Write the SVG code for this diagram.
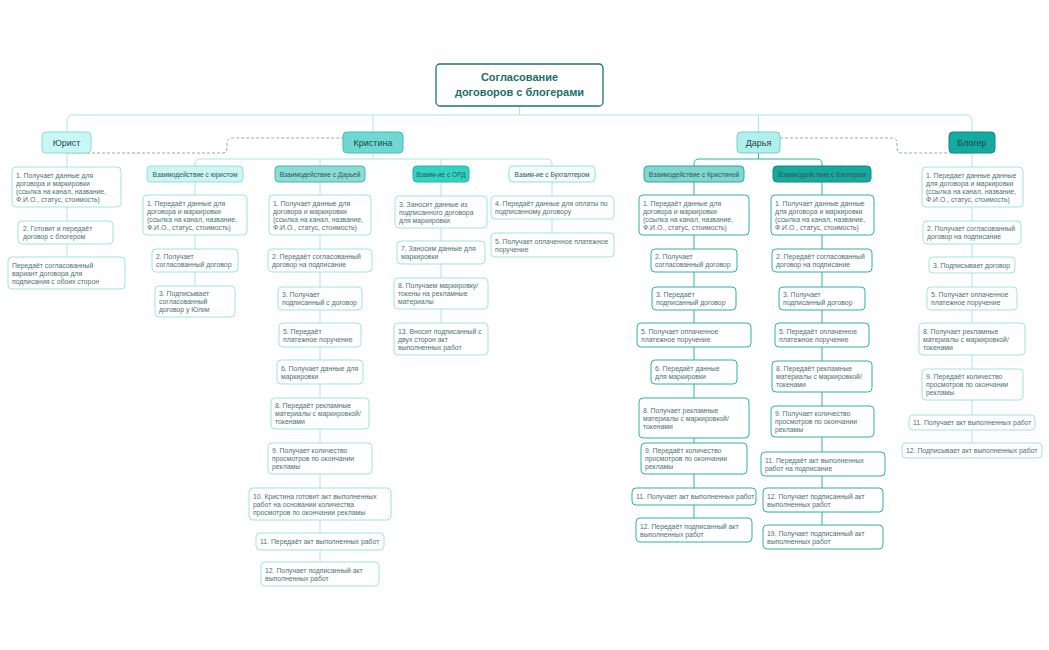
<svg xmlns="http://www.w3.org/2000/svg" width="1049" height="650" viewBox="0 0 1049 650">
<style>
.bg{fill:#ffffff}
.n rect{fill:#ffffff;stroke:#9fe4e0;stroke-width:1}
.nd rect{fill:#ffffff;stroke:#2db2a8;stroke-width:1}
.n text,.nd text{font-family:"Liberation Sans",Arial,sans-serif;font-size:6.85px;fill:#4a7272}
.hd text{font-family:"Liberation Sans",Arial,sans-serif;font-size:9px;fill:#234848;text-anchor:middle}
.sh text{font-family:"Liberation Sans",Arial,sans-serif;font-size:6.6px;fill:#2f5656;text-anchor:middle}
.cl{fill:none;stroke:#a6e8e4;stroke-width:1}
.cd{fill:none;stroke:#2db2a8;stroke-width:1}
.ds{fill:none;stroke:#9aa8a8;stroke-width:1;stroke-dasharray:3 2}
</style>
<rect class="bg" x="0" y="0" width="1049" height="650"/>
<g id="connectors">
<path class="cl" d="M519.5,106 V115 M67,131 V121 Q67,115 73,115 H966 Q972,115 972,121 V131 M373,115 V132 M758.5,115 V132"/>
<path class="ds" d="M67,153 H222 Q227,153 227,148 V143 Q227,138 232,138 H343"/>
<path class="ds" d="M780,138 H892 Q897,138 897,143 V148 Q897,153 902,153 H972"/>
<path class="cl" d="M67,153 V257"/>
<path class="cl" d="M972,153 V443"/>
<path class="cl" d="M373,153 V159 M195,166 V164 Q195,159 200,159 H547 Q552,159 552,164 V166 M320,159 V166 M441,159 V166"/>
<path class="cl" d="M195,182 V286 M320,182 V562 M441,182 V323 M552,182 V233"/>
<path class="cd" d="M758.5,153 V159 M694,166 V164 Q694,159 699,159 H817 Q822,159 822,164 V166"/>
<path class="cd" d="M694,182 V518 M822,182 V525"/>
</g>
<g id="title">
<rect x="436" y="64" width="167" height="42" rx="4" fill="#ffffff" stroke="#1b7672" stroke-width="1.3"/>
<text font-family="Liberation Sans, Arial, sans-serif" font-size="11" font-weight="bold" fill="#1d6e6a" text-anchor="middle"><tspan x="519.5" y="81">Согласование</tspan><tspan x="519.5" y="96">договоров с блогерами</tspan></text>
</g>
<g id="h-jurist" class="hd"><rect x="42" y="132" width="49" height="21" rx="4" fill="#c9f6f6" stroke="#86dcd8"/><text x="66.5" y="145.5">Юрист</text></g>
<g id="h-kristina" class="hd"><rect x="343" y="132" width="60" height="21" rx="4" fill="#6fd8d2" stroke="#3fbfb6"/><text x="373" y="145.5">Кристина</text></g>
<g id="h-darya" class="hd"><rect x="737" y="132" width="43" height="21" rx="4" fill="#b2efec" stroke="#6fd3cd"/><text x="758.5" y="145.5">Дарья</text></g>
<g id="h-bloger" class="hd"><rect x="949" y="132" width="46" height="21" rx="4" fill="#14aaa2" stroke="#0e8a84"/><text x="972" y="145.5">Блогер</text></g>

<g id="sh-jurist" class="sh"><rect x="147" y="166" width="96" height="16" rx="4" fill="#cdf5f3" stroke="#8fe0dc"/><text x="195" y="176.5">Взаимодействие с юристом</text></g>
<g id="sh-darya" class="sh"><rect x="275" y="166" width="90" height="16" rx="4" fill="#8ddbd5" stroke="#3cb8b0"/><text x="320" y="176.5">Взаимодействие с Дарьей</text></g>
<g id="sh-ord" class="sh"><rect x="413" y="166" width="56" height="16" rx="4" fill="#33d3c3" stroke="#22b5a8"/><text x="441" y="176.5">Взаим-ие с ОРД</text></g>
<g id="sh-buh" class="sh"><rect x="509" y="166" width="86" height="16" rx="4" fill="#f3fcfc" stroke="#8fe0dc"/><text x="552" y="176.5">Взаим-ие с Бухгалтером</text></g>
<g id="sh-kristinoy" class="sh"><rect x="644" y="166" width="100" height="16" rx="4" fill="#80d7d1" stroke="#2aa89e"/><text x="694" y="176.5">Взаимодействие с Кристиной</text></g>
<g id="sh-blogerom" class="sh"><rect x="773" y="166" width="98" height="16" rx="4" fill="#17a89e" stroke="#0e8a80"/><text x="822" y="176.5">Взаимодействие с Блогером</text></g>

<g id="j1" class="n"><rect x="12" y="167" width="109" height="40" rx="4"/><text><tspan x="16" y="177.5">1. Получает данные для</tspan><tspan x="16" dy="8">договора и маркировки</tspan><tspan x="16" dy="8">(ссылка на канал, название,</tspan><tspan x="16" dy="8">Ф.И.О., статус, стоимость)</tspan></text></g>
<g id="j2" class="n"><rect x="18" y="221" width="95" height="23" rx="4"/><text><tspan x="23" y="231">2. Готовит и передаёт</tspan><tspan x="23" dy="8">договор с блогером</tspan></text></g>
<g id="j3" class="n"><rect x="8" y="257" width="117" height="32" rx="4"/><text><tspan x="12" y="267.5">Передаёт согласованный</tspan><tspan x="12" dy="8">вариант договора для</tspan><tspan x="12" dy="8">подписания с обоих сторон</tspan></text></g>

<g id="k1" class="n"><rect x="143" y="195" width="104" height="40" rx="4"/><text><tspan x="147" y="205.5">1. Передаёт данные для</tspan><tspan x="147" dy="8">договора и маркировки</tspan><tspan x="147" dy="8">(ссылка на канал, название,</tspan><tspan x="147" dy="8">Ф.И.О., статус, стоимость)</tspan></text></g>
<g id="k2" class="n"><rect x="152" y="249" width="86" height="23" rx="4"/><text><tspan x="156" y="259">2. Получает</tspan><tspan x="156" dy="8">согласованный договор</tspan></text></g>
<g id="k3" class="n"><rect x="155" y="286" width="80" height="31" rx="4"/><text><tspan x="159" y="296">3. Подписывает</tspan><tspan x="159" dy="8">согласованный</tspan><tspan x="159" dy="8">договор у Юлии</tspan></text></g>

<g id="d1" class="n"><rect x="269" y="195" width="102" height="40" rx="4"/><text><tspan x="273" y="205.5">1. Получает данные для</tspan><tspan x="273" dy="8">договора и маркировки</tspan><tspan x="273" dy="8">(ссылка на канал, название,</tspan><tspan x="273" dy="8">Ф.И.О., статус, стоимость)</tspan></text></g>
<g id="d2" class="n"><rect x="268" y="249" width="104" height="23" rx="4"/><text><tspan x="272" y="259">2. Передаёт согласованный</tspan><tspan x="272" dy="8">договор на подписание</tspan></text></g>
<g id="d3" class="n"><rect x="278" y="287" width="84" height="23" rx="4"/><text><tspan x="282" y="297">3. Получает</tspan><tspan x="282" dy="8">подписанный с  договор</tspan></text></g>
<g id="d5" class="n"><rect x="279" y="323" width="82" height="24" rx="4"/><text><tspan x="283" y="333.5">5. Передаёт</tspan><tspan x="283" dy="8">платежное поручение</tspan></text></g>
<g id="d6" class="n"><rect x="277" y="360" width="86" height="24" rx="4"/><text><tspan x="281" y="370.5">6. Получает данные для</tspan><tspan x="281" dy="8">маркировки</tspan></text></g>
<g id="d8" class="n"><rect x="271" y="398" width="98" height="31" rx="4"/><text><tspan x="275" y="408">8. Передаёт рекламные</tspan><tspan x="275" dy="8">материалы с  маркировкой/</tspan><tspan x="275" dy="8">токенами</tspan></text></g>
<g id="d9" class="n"><rect x="268" y="443" width="104" height="31" rx="4"/><text><tspan x="272" y="453">9. Получает количество</tspan><tspan x="272" dy="8">просмотров по окончании</tspan><tspan x="272" dy="8">рекламы</tspan></text></g>
<g id="d10" class="n"><rect x="249" y="488" width="142" height="32" rx="4"/><text><tspan x="253" y="498.5">10. Кристина готовит акт выполненных</tspan><tspan x="253" dy="8">работ на основании количества</tspan><tspan x="253" dy="8">просмотров по окончании рекламы</tspan></text></g>
<g id="d11" class="n"><rect x="256" y="533" width="128" height="17" rx="4"/><text><tspan x="260" y="544">11. Передаёт акт выполненных работ</tspan></text></g>
<g id="d12" class="n"><rect x="261" y="562" width="118" height="24" rx="4"/><text><tspan x="265" y="572.5">12. Получает подписанный акт</tspan><tspan x="265" dy="8">выполненных работ</tspan></text></g>

<g id="o1" class="n"><rect x="395" y="196" width="92" height="32" rx="4"/><text><tspan x="399" y="206.5">3. Заносит данные из</tspan><tspan x="399" dy="8">подписанного договора</tspan><tspan x="399" dy="8">для маркировки</tspan></text></g>
<g id="o2" class="n"><rect x="397" y="241" width="88" height="23" rx="4"/><text><tspan x="401" y="251">7. Заносим данные для</tspan><tspan x="401" dy="8">маркировки</tspan></text></g>
<g id="o3" class="n"><rect x="394" y="278" width="94" height="31" rx="4"/><text><tspan x="398" y="288">8. Получаем маркировку/</tspan><tspan x="398" dy="8">токены на рекламные</tspan><tspan x="398" dy="8">материалы</tspan></text></g>
<g id="o4" class="n"><rect x="394" y="323" width="94" height="32" rx="4"/><text><tspan x="398" y="333.5">13. Вносит подписанный с</tspan><tspan x="398" dy="8">двух сторон акт</tspan><tspan x="398" dy="8">выполненных работ</tspan></text></g>

<g id="b1" class="n"><rect x="491" y="196" width="123" height="23" rx="4"/><text><tspan x="495" y="206">4. Передаёт данные для оплаты по</tspan><tspan x="495" dy="8">подписанному договору</tspan></text></g>
<g id="b2" class="n"><rect x="491" y="233" width="123" height="24" rx="4"/><text><tspan x="495" y="243.5">5. Получает оплаченное платежное</tspan><tspan x="495" dy="8">поручение</tspan></text></g>

<g id="r1" class="nd"><rect x="639" y="195" width="110" height="40" rx="4"/><text><tspan x="643" y="205.5">1. Передаёт данные для</tspan><tspan x="643" dy="8">договора и маркировки</tspan><tspan x="643" dy="8">(ссылка на канал, название,</tspan><tspan x="643" dy="8">Ф.И.О., статус, стоимость)</tspan></text></g>
<g id="r2" class="nd"><rect x="651" y="249" width="86" height="23" rx="4"/><text><tspan x="655" y="259">2. Получает</tspan><tspan x="655" dy="8">согласованный договор</tspan></text></g>
<g id="r3" class="nd"><rect x="652" y="287" width="84" height="23" rx="4"/><text><tspan x="656" y="297">3. Передаёт</tspan><tspan x="656" dy="8">подписанный договор</tspan></text></g>
<g id="r5" class="nd"><rect x="637" y="323" width="114" height="24" rx="4"/><text><tspan x="641" y="333.5">5. Получает оплаченное</tspan><tspan x="641" dy="8">платежное поручение</tspan></text></g>
<g id="r6" class="nd"><rect x="651" y="360" width="86" height="24" rx="4"/><text><tspan x="655" y="370.5">6. Передаёт данные</tspan><tspan x="655" dy="8">для маркировки</tspan></text></g>
<g id="r8" class="nd"><rect x="639" y="398" width="110" height="40" rx="4"/><text><tspan x="643" y="412.5">8. Получает рекламные</tspan><tspan x="643" dy="8">материалы с  маркировкой/</tspan><tspan x="643" dy="8">токенами</tspan></text></g>
<g id="r9" class="nd"><rect x="641" y="443" width="106" height="31" rx="4"/><text><tspan x="645" y="453">9. Передаёт количество</tspan><tspan x="645" dy="8">просмотров по окончании</tspan><tspan x="645" dy="8">рекламы</tspan></text></g>
<g id="r11" class="nd"><rect x="632" y="488" width="124" height="17" rx="4"/><text><tspan x="636" y="499">11. Получает акт выполненных работ</tspan></text></g>
<g id="r12" class="nd"><rect x="636" y="518" width="116" height="24" rx="4"/><text><tspan x="640" y="528.5">12. Передаёт подписанный акт</tspan><tspan x="640" dy="8">выполненных работ</tspan></text></g>

<g id="g1" class="nd"><rect x="771" y="195" width="103" height="40" rx="4"/><text><tspan x="775" y="205.5">1. Получает данные данные</tspan><tspan x="775" dy="8">для договора и маркировки</tspan><tspan x="775" dy="8">(ссылка на канал, название,</tspan><tspan x="775" dy="8">Ф.И.О., статус, стоимость)</tspan></text></g>
<g id="g2" class="nd"><rect x="772" y="249" width="100" height="23" rx="4"/><text><tspan x="776" y="259">2. Передаёт согласованный</tspan><tspan x="776" dy="8">договор на подписание</tspan></text></g>
<g id="g3" class="nd"><rect x="779" y="287" width="86" height="23" rx="4"/><text><tspan x="783" y="297">3. Получает</tspan><tspan x="783" dy="8">подписанный договор</tspan></text></g>
<g id="g5" class="nd"><rect x="775" y="323" width="94" height="24" rx="4"/><text><tspan x="779" y="333.5">5. Передаёт оплаченное</tspan><tspan x="779" dy="8">платежное поручение</tspan></text></g>
<g id="g8" class="nd"><rect x="772" y="361" width="100" height="31" rx="4"/><text><tspan x="776" y="371">8. Передаёт рекламные</tspan><tspan x="776" dy="8">материалы с  маркировкой/</tspan><tspan x="776" dy="8">токенами</tspan></text></g>
<g id="g9" class="nd"><rect x="771" y="406" width="103" height="31" rx="4"/><text><tspan x="775" y="416">9. Получает количество</tspan><tspan x="775" dy="8">просмотров по окончании</tspan><tspan x="775" dy="8">рекламы</tspan></text></g>
<g id="g11" class="nd"><rect x="761" y="452" width="124" height="24" rx="4"/><text><tspan x="765" y="462.5">11.  Передаёт акт выполненных</tspan><tspan x="765" dy="8">работ на подписание</tspan></text></g>
<g id="g12" class="nd"><rect x="763" y="488" width="120" height="24" rx="4"/><text><tspan x="767" y="498.5">12. Получает подписанный акт</tspan><tspan x="767" dy="8">выполненных работ</tspan></text></g>
<g id="g19" class="nd"><rect x="763" y="525" width="120" height="24" rx="4"/><text><tspan x="767" y="535.5">19. Получает подписанный акт</tspan><tspan x="767" dy="8">выполненных работ</tspan></text></g>

<g id="l1" class="n"><rect x="922" y="167" width="101" height="40" rx="4"/><text><tspan x="926" y="177.5">1. Передает данные данные</tspan><tspan x="926" dy="8">для договора и маркировки</tspan><tspan x="926" dy="8">(ссылка на канал, название,</tspan><tspan x="926" dy="8">Ф.И.О., статус, стоимость)</tspan></text></g>
<g id="l2" class="n"><rect x="923" y="221" width="98" height="23" rx="4"/><text><tspan x="927" y="231">2. Получает согласованный</tspan><tspan x="927" dy="8">договор на подписание</tspan></text></g>
<g id="l3" class="n"><rect x="929" y="257" width="86" height="16" rx="4"/><text><tspan x="933" y="267.5">3. Подписывает договор</tspan></text></g>
<g id="l5" class="n"><rect x="927" y="287" width="90" height="23" rx="4"/><text><tspan x="931" y="297">5. Получает оплаченное</tspan><tspan x="931" dy="8">платежное поручение</tspan></text></g>
<g id="l8" class="n"><rect x="919" y="323" width="106" height="32" rx="4"/><text><tspan x="923" y="333.5">8. Получает рекламные</tspan><tspan x="923" dy="8">материалы с  маркировкой/</tspan><tspan x="923" dy="8">токенами</tspan></text></g>
<g id="l9" class="n"><rect x="922" y="369" width="101" height="31" rx="4"/><text><tspan x="926" y="379">9. Передаёт количество</tspan><tspan x="926" dy="8">просмотров по окончании</tspan><tspan x="926" dy="8">рекламы</tspan></text></g>
<g id="l11" class="n"><rect x="909" y="415" width="126" height="15" rx="4"/><text><tspan x="913" y="425">11. Получает акт выполненных работ</tspan></text></g>
<g id="l12" class="n"><rect x="902" y="443" width="140" height="15" rx="4"/><text><tspan x="906" y="453">12. Подписывает акт выполненных работ</tspan></text></g>
</svg>
